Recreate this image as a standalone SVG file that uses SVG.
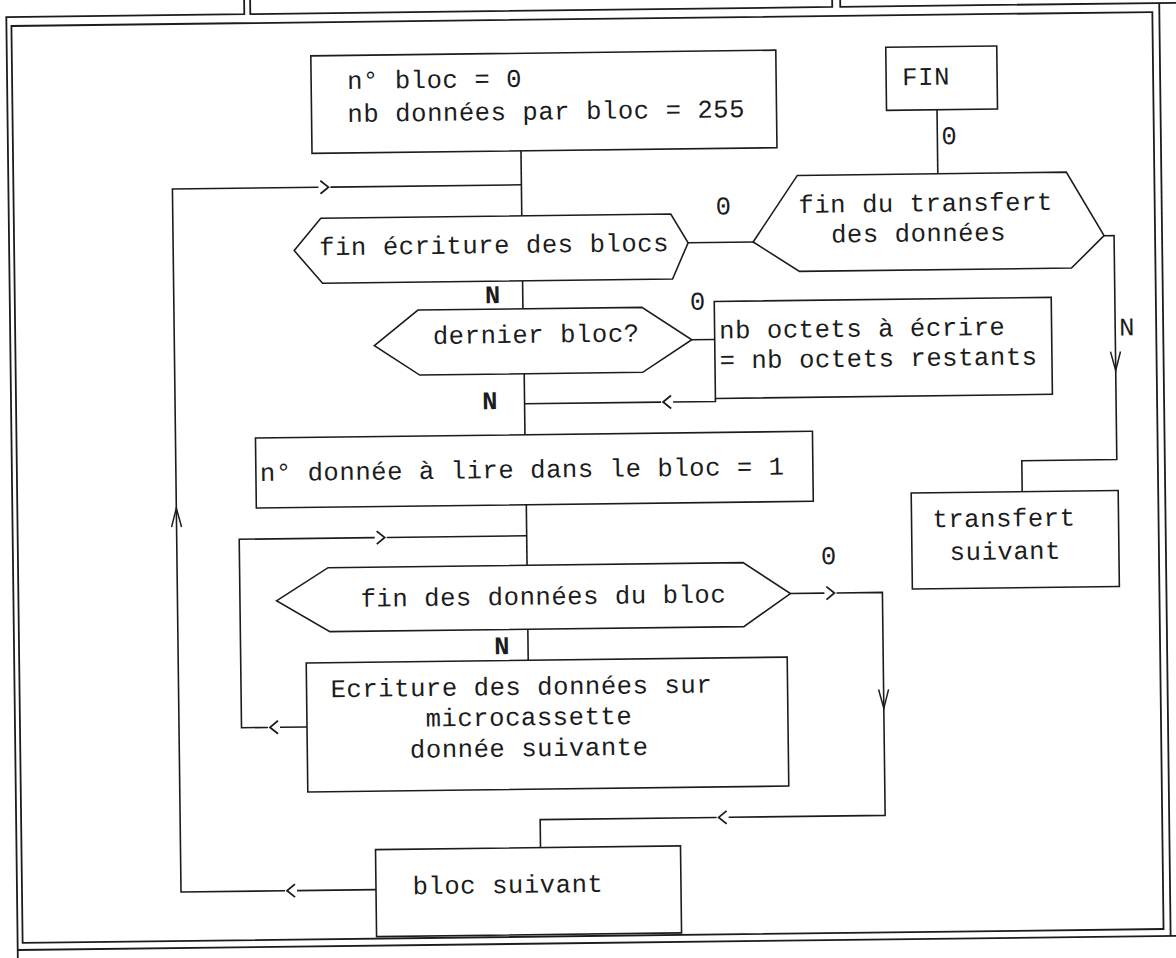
<svg xmlns="http://www.w3.org/2000/svg" xmlns:xlink="http://www.w3.org/1999/xlink" width="1176" height="958" viewBox="0 0 1176 958">
<style>
.ln{fill:none;stroke:#1c1c1c;stroke-width:1.6;stroke-linejoin:miter}
.fr{fill:none;stroke:#1c1c1c;stroke-width:1.8}
.bx{fill:none;stroke:#1c1c1c;stroke-width:1.6}
.t{font-family:"Liberation Mono","DejaVu Sans Mono",monospace;font-size:25.5px;letter-spacing:0.6px;fill:#1c1c1c}
.m{text-anchor:middle}
.b{font-weight:bold}
</style>
<defs>
<path id="cr" d="M-4,-6.5 L4,0 L-4,6.5" fill="none" stroke="#1c1c1c" stroke-width="1.8"/>
<path id="cd" d="M-5,-10 L0,9 L5,-10" fill="none" stroke="#1c1c1c" stroke-width="1.5"/>
</defs>
<rect x="0" y="0" width="1176" height="958" fill="#ffffff"/>
<g transform="rotate(-0.7 588 479)">
<g id="frame">
<path class="fr" d="M250,-12 L250,10 L12,10 L12,975"/>
<path class="fr" d="M256,-12 L256,10 L838,10 L838,-12"/>
<path class="fr" d="M846,-12 L846,10 L1190,10"/>
<path class="fr" d="M1165,10 L1165,943"/>
<path class="fr" d="M12,943 L1190,943"/>
<rect class="fr" x="17" y="19" width="1141" height="917"/>
</g>
<g id="connectors">
<path class="ln" d="M371,887 L292,887 M280,887 L176,887 L176,184 L322,184 M334,184 L525,184"/>
<use xlink:href="#cr" transform="translate(286,887) rotate(180)"/>
<use xlink:href="#cr" transform="translate(328,184)"/>
<use xlink:href="#cd" transform="translate(176,512) rotate(180)"/>
<path class="ln" d="M525,150 L525,215"/>
<path class="ln" d="M525,280 L525,308"/>
<path class="ln" d="M525.5,373 L525.5,434"/>
<path class="ln" d="M716.4,400 L716.4,403 L674,403 M662,403 L525.5,403"/>
<use xlink:href="#cr" transform="translate(668,403) rotate(180)"/>
<path class="ln" d="M526,504 L526,564.5"/>
<path class="ln" d="M304,723.5 L277,723.5 M265,723.5 L238.5,723.5 L238.5,535 L374,535 M386,535 L526,535"/>
<use xlink:href="#cr" transform="translate(271,723.5) rotate(180)"/>
<use xlink:href="#cr" transform="translate(380,535)"/>
<path class="ln" d="M526,628.5 L526,659.5"/>
<path class="ln" d="M789,596 L823,596 M835,596 L881,596 L881,819 L724.5,819 M712.5,819 L536,819 L536,847"/>
<use xlink:href="#cr" transform="translate(829,596)"/>
<use xlink:href="#cd" transform="translate(881,703)"/>
<use xlink:href="#cr" transform="translate(718.5,819) rotate(180)"/>
<path class="ln" d="M691,244 L756,244"/>
<path class="ln" d="M693.5,341 L716.4,341"/>
<path class="ln" d="M941.5,114 L941.5,178"/>
<path class="ln" d="M1107,242 L1117,242 L1117,466 L1022,466 L1022,497"/>
<use xlink:href="#cd" transform="translate(1117,368)"/>
<text class="t m" x="953.5" y="148.5">0</text>
<text class="t m" x="727" y="216">0</text>
<text class="t m" x="700" y="311">0</text>
<text class="t m" x="828" y="567">0</text>
<text class="t m b" x="495" y="302">N</text>
<text class="t m b" x="491" y="408">N</text>
<text class="t m b" x="500" y="653">N</text>
<text class="t m" x="1129" y="342">N</text>
</g>
<g id="n-init">
<rect class="bx" x="316" y="52.5" width="465" height="97.5"/>
<text class="t" x="352" y="86">n° bloc = 0</text>
<text class="t" x="352" y="119">nb données par bloc = 255</text>
</g>
<g id="n-fin">
<rect class="bx" x="891" y="51" width="111" height="63"/>
<text class="t m" x="931" y="89">FIN</text>
</g>
<g id="n-fin-transfert">
<polygon class="bx" points="756,244 801,178 1070,178 1107,242 1074,274 802,274"/>
<text class="t m" x="929" y="215.5">fin du transfert</text>
<text class="t m" x="921.5" y="245.5">des données</text>
</g>
<g id="n-fin-ecriture">
<polygon class="bx" points="297,247 324,215 674,215 691,244 675,280 325,280"/>
<text class="t m" x="497" y="252">fin écriture des blocs</text>
</g>
<g id="n-dernier">
<polygon class="bx" points="376,343 420,308 644,308 693.5,341 644,373 421,373"/>
<text class="t m" x="538" y="342">dernier bloc?</text>
</g>
<g id="n-octets">
<rect class="bx" x="716.4" y="303" width="337" height="97"/>
<text class="t" x="721" y="340">nb octets à écrire</text>
<text class="t" x="721" y="370">= nb octets restants</text>
</g>
<g id="n-donnee-lire">
<rect class="bx" x="256" y="434" width="557" height="70"/>
<text class="t" x="260" y="477">n° donnée à lire dans le bloc = 1</text>
</g>
<g id="n-fin-donnees">
<polygon class="bx" points="275,597 327,564.5 742,564.5 789,596 742,628.5 328,628.5"/>
<text class="t m" x="542" y="604">fin des données du bloc</text>
</g>
<g id="n-ecriture">
<rect class="bx" x="304" y="659.5" width="481" height="129"/>
<text class="t" x="328" y="694">Ecriture des données sur</text>
<text class="t m" x="526" y="724.5">microcassette</text>
<text class="t m" x="526" y="755.5">donnée suivante</text>
</g>
<g id="n-transfert-suivant">
<rect class="bx" x="911" y="497" width="207" height="96"/>
<text class="t m" x="1003.5" y="531.5">transfert</text>
<text class="t m" x="1004.5" y="564.5">suivant</text>
</g>
<g id="n-bloc-suivant">
<rect class="bx" x="371" y="847" width="305" height="87"/>
<text class="t m" x="503" y="892">bloc suivant</text>
</g>
</g>
</svg>
